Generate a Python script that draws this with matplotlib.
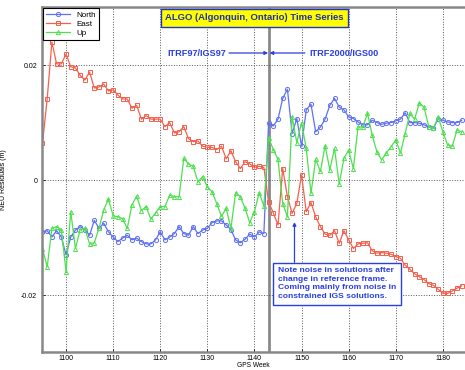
import matplotlib
matplotlib.use('Agg')
import matplotlib.pyplot as plt
import numpy as np

plt.rcParams['font.family'] = ['Liberation Sans', 'DejaVu Sans']

# GPS weeks 1095 .. 1184, residuals in mm
weeks = np.arange(1095, 1185)

north = [-9.0, -8.8, -9.9, -8.8, -9.9, -13.0, -9.9, -8.7, -8.1, -8.6,
         -9.6, -7.0, -8.4, -7.5, -9.0, -9.9, -10.7, -10.1, -9.6, -10.4,
         -10.1, -10.7, -11.1, -11.1, -10.4, -9.0, -10.4, -9.9, -9.3, -8.1,
         -9.3, -9.6, -8.1, -9.3, -8.7, -8.4, -7.4, -7.1, -7.1, -7.8,
         -8.6, -10.4, -10.9, -10.3, -9.4, -9.9, -9.0, -9.3, 9.9, 9.4,
         10.6, 14.2, 15.8, 8.1, 10.7, 5.9, 12.2, 13.2, 8.4, 9.2,
         10.6, 13.0, 14.2, 12.7, 12.2, 11.0, 10.7, 10.1, 9.6, 9.6,
         10.4, 10.0, 9.7, 9.9, 10.0, 10.3, 10.6, 11.7, 10.0, 10.0,
         9.9, 9.6, 9.3, 9.0, 10.7, 10.4, 10.1, 10.0, 10.0, 10.4]

east = [6.4, 14.1, 24.0, 20.2, 20.2, 21.9, 19.7, 19.5, 18.2, 17.4,
        18.8, 16.0, 16.2, 16.7, 15.5, 15.7, 14.8, 14.1, 14.1, 12.5,
        13.0, 10.6, 11.2, 10.6, 10.6, 10.6, 9.3, 10.0, 8.2, 8.4,
        9.3, 7.2, 6.7, 6.8, 5.9, 5.7, 5.7, 5.3, 5.9, 3.7,
        5.1, 3.2, 2.0, 3.2, 2.8, 2.2, 2.4, 2.2, -3.8, -5.7,
        -7.8, 2.0, -2.9, -5.8, -4.0, 0.9, -5.5, -3.9, -6.4, -8.1,
        -9.4, -9.6, -8.8, -11.0, -8.8, -10.4, -11.9, -11.1, -11.0, -10.9,
        -12.3, -12.7, -12.6, -12.7, -12.9, -13.3, -13.6, -14.8, -15.5, -16.3,
        -16.8, -17.3, -18.0, -18.3, -19.0, -19.7, -19.7, -19.3, -18.8, -18.4]

up = [-11.9, -15.1, -8.4, -8.1, -8.6, -15.9, -5.5, -11.9, -8.6, -8.4,
      -11.1, -10.9, -8.4, -5.2, -3.3, -6.2, -6.4, -6.7, -8.4, -4.3,
      -2.8, -5.3, -4.6, -6.8, -5.7, -4.6, -4.6, -2.6, -2.9, -2.9,
      3.8, 2.8, 2.4, -0.3, 0.6, -1.2, -2.0, -4.1, -6.3, -4.9,
      -8.4, -2.2, -2.9, -4.9, -7.4, -5.5, -2.2, -4.5, 7.4, 5.3,
      3.6, -4.1, -6.4, 11.0, 6.5, 10.0, 5.5, -2.3, 3.6, 1.5,
      6.0, 1.8, 5.5, -0.7, 3.8, 5.2, 2.0, 9.3, 9.2, 11.6,
      7.8, 4.9, 3.5, 4.7, 5.8, 7.0, 4.7, 8.1, 11.6, 10.6,
      13.4, 12.7, 9.3, 9.0, 11.0, 8.4, 6.1, 5.9, 8.7, 8.4]

frame_change = 1143

mm = 0.001
blue = '#5e70f4'
red = '#f5604c'
green = '#4ee04e'
txt_blue = '#2a3fe0'

fig = plt.figure(figsize=(4.65, 3.7), dpi=100)
ax = fig.add_axes([42/465, 18/370, 423/465, 345/370])

ax.plot(weeks, np.array(north)*mm, color=blue, marker='o', ms=3, mfc='none',
        mew=0.7, lw=0.9, label='North')
ax.plot(weeks, np.array(east)*mm, color=red, marker='s', ms=2.8, mfc='none',
        mew=0.7, lw=0.9, label='East')
ax.plot(weeks, np.array(up)*mm, color=green, marker='^', ms=3, mfc='none',
        mew=0.7, lw=0.9, label='Up')

ax.axvline(frame_change, color='#8a8a8a', lw=2, zorder=1)

ax.set_xlim(1094.9, 1184.7)
ax.set_ylim(-0.0299, 0.0301)
ax.set_xticks(range(1100, 1181, 10))
ax.set_yticks([-0.02, 0, 0.02])
ax.set_yticklabels(['-0.02', '0', '0.02'])
ax.tick_params(labelsize=5, length=2, width=0.6, direction='in')
ax.tick_params(axis='x', pad=2)
ax.grid(True, linestyle=':', color='#555555', lw=0.7)
for s in ['left', 'bottom', 'top']:
    ax.spines[s].set_color('#888888')
    ax.spines[s].set_linewidth(1.8)
ax.spines['right'].set_visible(False)
ax.set_xlabel('GPS Week', fontsize=4.8, labelpad=0)
ax.set_ylabel('NEU Residuals (m)', fontsize=5, labelpad=10)

leg = ax.legend(loc='upper left', fontsize=5.8, handlelength=3, borderpad=0.35,
                labelspacing=0.2, fancybox=False, framealpha=1,
                borderaxespad=0.15)
leg.get_frame().set_edgecolor('black')
leg.get_frame().set_linewidth(0.8)

ax.text(1140.0, 0.0282, 'ALGO (Algonquin, Ontario) Time Series', ha='center',
        va='center', fontsize=6.8, fontweight='bold', color='#1f2fb0',
        bbox=dict(boxstyle='square,pad=0.45', fc='#ffff00', ec='#2233cc', lw=1))

ax.text(1134.0, 0.0221, 'ITRF97/IGS97', ha='right', va='center', fontsize=6.6,
        fontweight='bold', color=txt_blue)
ax.annotate('', xy=(frame_change - 0.1, 0.0221), xytext=(1134.6, 0.0221),
            arrowprops=dict(arrowstyle='-|>', color=txt_blue, lw=0.9,
                            mutation_scale=5, shrinkA=0, shrinkB=0))
ax.text(1151.6, 0.0221, 'ITRF2000/IGS00', ha='left', va='center', fontsize=6.6,
        fontweight='bold', color=txt_blue)
ax.annotate('', xy=(frame_change + 0.2, 0.0221), xytext=(1150.7, 0.0221),
            arrowprops=dict(arrowstyle='-|>', color=txt_blue, lw=0.9,
                            mutation_scale=5, shrinkA=0, shrinkB=0))

ax.text(1145.0, -0.0152,
        'Note noise in solutions after\nchange in reference frame.\n'
        'Coming mainly from noise in\nconstrained IGS solutions.',
        ha='left', va='top', fontsize=6.1, fontweight='bold', color=txt_blue,
        linespacing=1.3,
        bbox=dict(boxstyle='square,pad=0.55', fc='white', ec=txt_blue, lw=1))
ax.annotate('', xy=(1148.5, -0.0073), xytext=(1148.5, -0.0143),
            arrowprops=dict(arrowstyle='-|>', color=txt_blue, lw=0.9,
                            mutation_scale=5, shrinkA=0, shrinkB=0))

fig.savefig('out.png', dpi=100)
